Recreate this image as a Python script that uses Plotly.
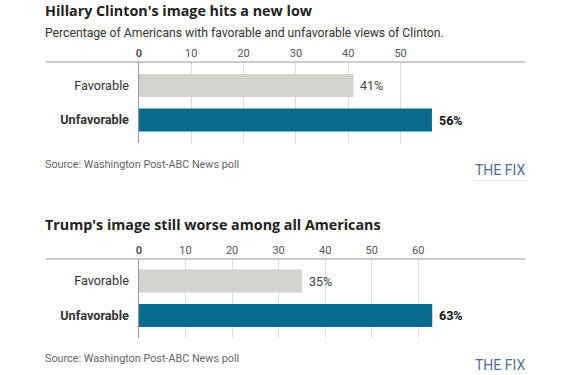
import plotly.graph_objects as go

W, H = 564, 375

categories = ["Favorable", "Unfavorable"]
clinton_values = [41, 56]
trump_values = [35, 63]
clinton_ticks = [0, 10, 20, 30, 40, 50]
trump_ticks = [0, 10, 20, 30, 40, 50, 60]

titles = ["Hillary Clinton's image hits a new low", "Trump's image still worse among all Americans"]
subtitle = "Percentage of Americans with favorable and unfavorable views of Clinton."
source = "Source: Washington Post-ABC News poll"
brand = "THE FIX"

FONT = "Roboto, Arial, sans-serif"
TFONT = "Open Sans, Roboto, Arial, sans-serif"
FAV_C = "#d3d3cf"
UNF_C = "#0a6c90"
TX = 40  # left x of text annotations (box edge, text starts ~3px right)

def px_x(p):
    return p / W

def px_y(p):
    return 1 - p / H

fig = go.Figure()

panels = [
    dict(vals=clinton_values, ticks=clinton_ticks, xa="x", ya="y", scale=5.26,
         axis_y=62, grid_bottom=143, fav_c=85.5),
    dict(vals=trump_values, ticks=trump_ticks, xa="x2", ya="y2", scale=4.68,
         axis_y=259, grid_bottom=338, fav_c=281),
]

x0_px = 136.7
x1_px = 525
unit = 34.5
layout_upd = {}
annotations = []
for i, p in enumerate(panels):
    fig.add_trace(go.Bar(
        x=p["vals"], y=categories, orientation="h",
        marker=dict(color=[FAV_C, UNF_C], line=dict(width=0)),
        width=0.66,
        xaxis=p["xa"], yaxis=p["ya"], showlegend=False, hoverinfo="skip",
    ))
    for c, v in zip(categories, p["vals"]):
        t = f"{v}%"
        bold = c == "Unfavorable"
        annotations.append(dict(
            text=f"<b>{t}</b>" if bold else t, x=v, y=c, xref=p["xa"], yref=p["ya"],
            xanchor="left", yanchor="middle", xshift=5, showarrow=False,
            font=dict(family=FONT, size=12.5, color="#111" if bold else "#444")))
    xr = (x1_px - x0_px) / p["scale"]
    top_off = (p["fav_c"] - p["axis_y"]) / unit
    bot_off = (p["grid_bottom"] - p["fav_c"]) / unit
    suffix = "" if i == 0 else "2"
    layout_upd["xaxis" + suffix] = dict(
        domain=[px_x(x0_px), px_x(x1_px)], range=[0, xr], side="top",
        anchor="y" + suffix,
        tickvals=p["ticks"],
        ticktext=["<b>0</b>" if t == 0 else str(t) for t in p["ticks"]],
        tickfont=dict(family=FONT, size=11, color="#555"),
        showgrid=True, gridcolor="#dddddd", gridwidth=1,
        zeroline=True, zerolinecolor="#999999", zerolinewidth=1,
        showline=False, ticks="", ticklabelstandoff=2, fixedrange=True,
    )
    layout_upd["yaxis" + suffix] = dict(
        domain=[px_y(p["grid_bottom"]), px_y(p["axis_y"])],
        range=[bot_off, -top_off], anchor="x" + suffix,
        type="category",
        tickvals=categories,
        ticktext=["Favorable", "<b>Unfavorable</b>"],
        tickfont=dict(family=FONT, size=12.7, color="#333"),
        showgrid=False, zeroline=False, showline=False, ticks="",
        ticklabelstandoff=9, fixedrange=True,
    )

shapes = []
for i, p in enumerate(panels):
    shapes.append(dict(type="line", xref="paper", yref="paper",
                       x0=px_x(43), x1=px_x(525), y0=px_y(p["axis_y"]), y1=px_y(p["axis_y"]),
                       line=dict(color="#999999", width=1)))

title_y = [11, 224]
source_y = [164, 358]
brand_y = [170, 365]
for i in range(2):
    annotations.append(dict(text=f"<b>{titles[i]}</b>", x=px_x(TX), y=px_y(title_y[i]),
                            xref="paper", yref="paper", xanchor="left", yanchor="middle",
                            showarrow=False, font=dict(family=TFONT, size=14.3, color="#222")))
    annotations.append(dict(text=source, x=px_x(TX), y=px_y(source_y[i]),
                            xref="paper", yref="paper", xanchor="left", yanchor="middle",
                            showarrow=False, font=dict(family=FONT, size=10.8, color="#666")))
    annotations.append(dict(text=brand, x=px_x(527), y=px_y(brand_y[i]),
                            xref="paper", yref="paper", xanchor="right", yanchor="middle",
                            showarrow=False, font=dict(family=FONT, size=14, color="#4f6f9c")))
    shapes.append(dict(type="line", xref="paper", yref="paper",
                       x0=px_x(475), x1=px_x(525), y0=px_y(brand_y[i] + 10.5), y1=px_y(brand_y[i] + 10.5),
                       line=dict(color="#e6e6e6", width=1)))

annotations.append(dict(text=subtitle, x=px_x(TX), y=px_y(33),
                        xref="paper", yref="paper", xanchor="left", yanchor="middle",
                        showarrow=False, font=dict(family=FONT, size=12.2, color="#333")))

fig.update_layout(
    width=W, height=H, margin=dict(l=0, r=0, t=0, b=0),
    paper_bgcolor="white", plot_bgcolor="rgba(0,0,0,0)",
    shapes=shapes, annotations=annotations,
    font=dict(family=FONT),
    **layout_upd,
)

# remove the browser's default page margin so the figure fills the window exactly
fig.write_html("out.html", config={"displayModeBar": False},
               post_script="document.body.style.margin='0';document.body.style.overflow='hidden';")
